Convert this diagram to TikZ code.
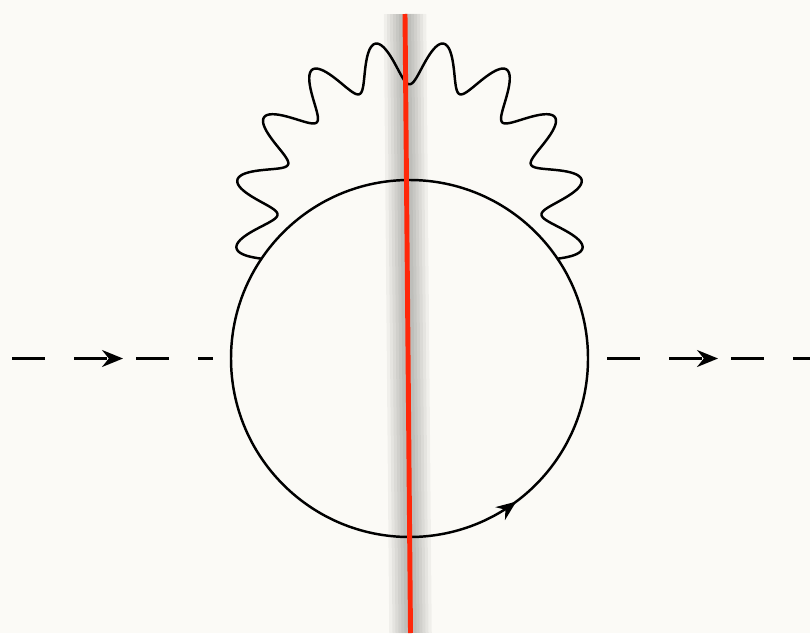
\documentclass[tikz,border=0pt]{standalone}
\usetikzlibrary{arrows.meta,calc,decorations.markings}

\definecolor{paper}{RGB}{251,250,246}
\definecolor{cutred}{RGB}{255,40,10}

\begin{document}
\begin{tikzpicture}[line width=1.4pt,
  scalar/.style={dash pattern=on 0.66cm off 0.58cm,
    postaction={decorate},
    decoration={markings, mark=at position 2.22cm with
      {\arrow{Stealth[length=0.42cm, width=0.34cm]}}}},
  fermion/.style={postaction={decorate},
    decoration={markings, mark=at position 0.852 with
      {\arrow{Stealth[length=0.4cm, width=0.32cm]}}}},
  photon/.style={line join=round},
  cut/.style={line width=2.8pt, cutred},
  blur/.style={line width=#1, black, opacity=0.045}
]
% paper
\fill[paper] (0,0) rectangle (16.2,12.66);
\useasboundingbox (0,0) rectangle (16.2,12.66);

% loop centre and vertices
\coordinate (c) at (8.19,5.49);
\coordinate (pl) at ($(c)+(146:3.57)$);
\coordinate (pr) at ($(c)+(34:3.57)$);
\coordinate (p) at (8.19,8.335); % centre of the photon arc

% external legs
\coordinate (i1) at (0.24,5.49);
\coordinate (a)  at (4.26,5.49);
\coordinate (b)  at (12.14,5.49);
\coordinate (f1) at (16.2,5.49);

% cut line ends
\coordinate (top) at (8.10,12.38);
\coordinate (bot) at (8.21,0);

\draw[scalar] (i1) -- (a);
\draw[scalar] (b) -- (f1);

% fermion loop
\draw[fermion] (c) circle (3.57);

% photon, pl -> pr over the top
\draw[photon, shift={(p)}] plot[domain=196:-16, samples=400, smooth]
  (\x:{3.079+0.44*sin(16.1321*(196-\x))});

% Cut with its shadow
\foreach \w in {0.85,0.72,0.6,0.48,0.36,0.24}
  \draw[blur=\w cm] (top) -- (bot);
\draw[cut] (top) -- (bot);

\end{tikzpicture}
\end{document}
